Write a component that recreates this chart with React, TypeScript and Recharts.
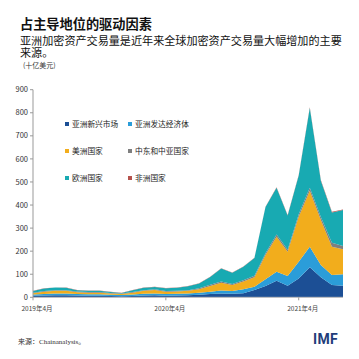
import { AreaChart, Area, XAxis, YAxis } from "recharts";

const months = [
  "2019年4月", "2019年5月", "2019年6月", "2019年7月", "2019年8月", "2019年9月",
  "2019年10月", "2019年11月", "2019年12月", "2020年1月", "2020年2月", "2020年3月",
  "2020年4月", "2020年5月", "2020年6月", "2020年7月", "2020年8月", "2020年9月",
  "2020年10月", "2020年11月", "2020年12月", "2021年1月", "2021年2月", "2021年3月",
  "2021年4月", "2021年5月", "2021年6月", "2021年7月", "2021年8月",
];

// 十亿美元
const asiaEmerging = [7, 8, 9, 9, 8, 7, 7, 6, 5, 6, 8, 9, 7, 8, 9, 11, 14, 17, 15, 18, 32, 49, 72, 50, 82, 130, 87, 53, 50];
const asiaAdvanced = [5, 6, 7, 7, 6, 6, 6, 5, 5, 6, 7, 8, 7, 7, 8, 9, 10, 13, 12, 17, 14, 29, 39, 42, 72, 89, 53, 44, 50];
const americas = [6, 10, 12, 12, 8, 7, 7, 6, 4, 8, 13, 15, 10, 10, 11, 15, 25, 33, 26, 33, 41, 105, 152, 106, 195, 243, 195, 122, 108];
const mecca = [2, 3, 3, 3, 3, 3, 3, 2, 2, 3, 3, 3, 3, 3, 3, 4, 5, 6, 5, 6, 6, 8, 9, 8, 11, 13, 13, 17, 14];
const europe = [7, 11, 11, 10, 6, 5, 5, 4, 3, 8, 10, 10, 12, 13, 17, 21, 34, 56, 48, 58, 77, 200, 203, 149, 168, 346, 157, 132, 156];
const africa = [1, 1, 1, 1, 1, 1, 1, 1, 1, 1, 1, 1, 1, 1, 1, 1, 1, 1, 1, 1, 2, 2, 2, 2, 2, 3, 3, 3, 3];

const xTicks = ["2019年4月", "2020年4月", "2021年4月"];
const yTicks = [0, 100, 200, 300, 400, 500, 600, 700, 800, 900];

const series = [
  { key: "asiaEmerging", name: "亚洲新兴市场", color: "#1c4f95" },
  { key: "asiaAdvanced", name: "亚洲发达经济体", color: "#2b9dd9" },
  { key: "americas", name: "美洲国家", color: "#f2ad1c" },
  { key: "mecca", name: "中东和中亚国家", color: "#7f7f7f" },
  { key: "europe", name: "欧洲国家", color: "#18aab2" },
  { key: "africa", name: "非洲国家", color: "#b5524c" },
];

const data = months.map((m, i) => ({
  month: m,
  asiaEmerging: asiaEmerging[i],
  asiaAdvanced: asiaAdvanced[i],
  americas: americas[i],
  mecca: mecca[i],
  europe: europe[i],
  africa: africa[i],
}));

const font = '"Noto Sans CJK SC", "Noto Sans", sans-serif';

// legend order: rows of two
const legendOrder = [
  ["asiaEmerging", "asiaAdvanced"],
  ["americas", "mecca"],
  ["europe", "africa"],
];

export default function App() {
  return (
    <div style={{ position: "absolute", left: 0, top: 0, width: 359, height: 359, background: "#fff", fontFamily: font }}>
      <div style={{ position: "absolute", left: 20, top: 14, fontSize: 13.2, fontWeight: 700, color: "#111", whiteSpace: "nowrap" }}>
        占主导地位的驱动因素
      </div>
      <div style={{ position: "absolute", left: 20, top: 35, width: 330, fontSize: 11.1, lineHeight: "11.5px", color: "#111" }}>
        亚洲加密资产交易量是近年来全球加密资产交易量大幅增加的主要来源。
      </div>
      <div style={{ position: "absolute", left: 23, top: 60, fontSize: 7, color: "#333" }}>(十亿美元)</div>

      <AreaChart
        width={359}
        height={359}
        data={data}
        margin={{ top: 89.7, right: 16, bottom: 41.7, left: 8 }}
        style={{ position: "absolute", left: 0, top: 0 }}
      >
        <XAxis
          dataKey="month"
          ticks={xTicks}
          interval={0}
          tick={{ fontSize: 6.5, fill: "#444", fontFamily: font, dx: 4, dy: 4 }}
          tickLine={{ stroke: "#999" }}
          tickSize={3}
          axisLine={{ stroke: "#bbb" }}
          height={20}
        />
        <YAxis
          domain={[0, 900]}
          ticks={yTicks}
          interval={0}
          width={25}
          tick={{ fontSize: 7.5, fill: "#333", fontFamily: font }}
          tickLine={{ stroke: "#999" }}
          tickSize={3}
          axisLine={{ stroke: "#999" }}
        />
        {series.map((s) => (
          <Area
            key={s.key}
            type="linear"
            dataKey={s.key}
            name={s.name}
            stackId="1"
            stroke="none"
            fill={s.color}
            fillOpacity={1}
            isAnimationActive={false}
          />
        ))}
      </AreaChart>

      {legendOrder.map((row, r) =>
        row.map((k, c) => {
          const s = series.find((x) => x.key === k)!;
          return (
            <div
              key={k}
              style={{
                position: "absolute",
                left: c === 0 ? 65 : 128,
                top: 118 + r * 27,
                fontSize: 7.7,
                color: "#222",
                whiteSpace: "nowrap",
                display: "flex",
                alignItems: "center",
              }}
            >
              <span style={{ display: "inline-block", width: 4, height: 4, background: s.color, marginRight: 3 }} />
              {s.name}
            </div>
          );
        })
      )}

      <div style={{ position: "absolute", left: 18, top: 336, fontSize: 7, color: "#333", whiteSpace: "nowrap" }}>
        来源：<span style={{ fontFamily: '"Liberation Serif", serif' }}>Chainanalysis</span>。
      </div>
      <div style={{ position: "absolute", left: 313, top: 331, fontSize: 14, fontWeight: 700, color: "#1f3d7a", fontFamily: "Roboto, sans-serif", letterSpacing: 0.3 }}>
        IMF
      </div>
    </div>
  );
}
